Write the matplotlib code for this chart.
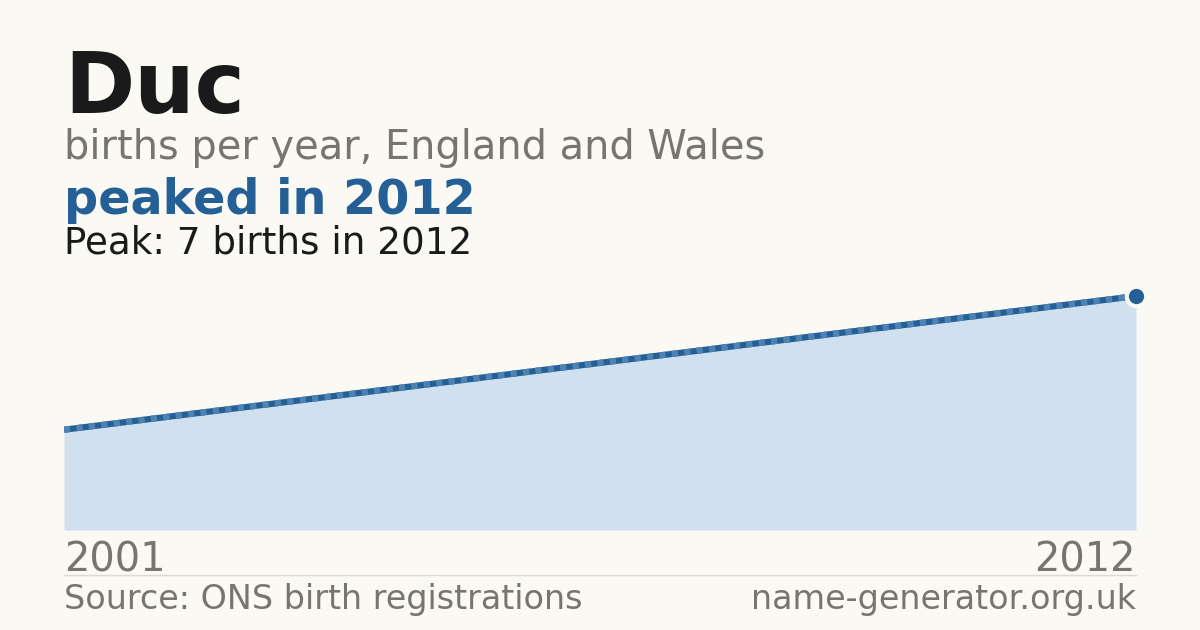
import matplotlib.pyplot as plt

plt.rcParams['font.family'] = ['DejaVu Sans']

years = [2001, 2012]
births = [3, 7]
peak_year = 2012
peak_value = 7

name = "Duc"
subtitle = "births per year, England and Wales"
headline = "peaked in 2012"
peak_note = "Peak: 7 births in 2012"
source = "Source: ONS birth registrations"
site = "name-generator.org.uk"

bg = "#faf9f4"
blue = "#245f96"
fill = "#d0e0ef"
grey = "#78746e"

W, H = 1200, 630
fig = plt.figure(figsize=(12, 6.3), dpi=100, facecolor=bg)


def fy(py):
    # pixel row from top -> figure fraction
    return 1 - py / H


ax = fig.add_axes([64 / W, fy(530), (1136 - 64) / W, (530 - 280) / H])
ax.set_facecolor(bg)
ax.fill_between(years, births, 0, color=fill, lw=0)
ax.plot(years, births, color=blue, lw=4.5, solid_capstyle="butt")
ax.plot(years, births, color="#4f82b3", lw=4.5, dashes=(1, 1), solid_capstyle="butt")
ax.plot([peak_year], [peak_value], marker="o", ms=14, color=blue,
        mec=bg, mew=3, clip_on=False, zorder=5)
ax.set_xlim(years[0], years[-1])
ax.set_ylim(0, 7.48)
ax.axis("off")

fig.text(64 / W, fy(113), name, fontsize=61, fontweight="bold", color="#1a1a1a", va="baseline")
fig.text(64 / W, fy(159), subtitle, fontsize=28.7, color=grey, va="baseline")
fig.text(64 / W, fy(214), headline, fontsize=34.4, fontweight="bold", color=blue, va="baseline")
fig.text(64 / W, fy(253), peak_note, fontsize=26.8, color="#1a1a1a", va="baseline")

fig.text(64 / W, fy(571), str(years[0]), fontsize=28.7, color=grey, va="baseline")
fig.text(1136 / W, fy(571), str(years[-1]), fontsize=28.7, color=grey, va="baseline", ha="right")
fig.add_artist(plt.Line2D([64 / W, 1136 / W], [fy(575), fy(575)], color="#dddad3", lw=1))
fig.text(64 / W, fy(609), source, fontsize=24, color=grey, va="baseline")
fig.text(1136 / W, fy(609), site, fontsize=24, color=grey, va="baseline", ha="right")

fig.savefig("out.png", dpi=100, facecolor=bg)
